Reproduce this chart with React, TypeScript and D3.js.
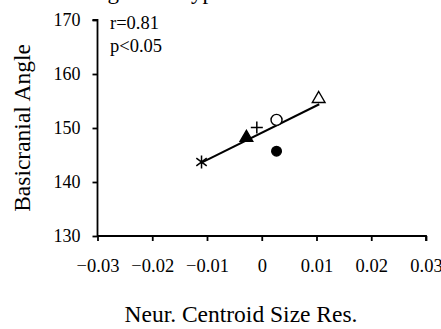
import React, { useEffect, useRef } from "react";
import * as d3 from "d3";

// point values
const markers = ["asterisk", "triangleFilled", "plus", "circleOpen", "triangleOpen", "circleFilled"];
const sizeRes = [-0.011, -0.0028, -0.0009, 0.0027, 0.0104, 0.0027];
const angle = [143.7, 148.2, 150.1, 151.5, 155.4, 145.7];

// regression line ends
const fitX = [-0.011, 0.0105];
const fitY = [143.6, 154.4];

const xTicks = [-0.03, -0.02, -0.01, 0, 0.01, 0.02, 0.03];
const yTicks = [130, 140, 150, 160, 170];
const stats = ["r=0.81", "p<0.05"];

const App: React.FC = () => {
  const ref = useRef<SVGSVGElement>(null);

  useEffect(() => {
    const svg = d3.select(ref.current);
    svg.selectAll("*").remove();

    const font = "'Liberation Serif', 'Times New Roman', serif";
    const x = d3.scaleLinear().domain([-0.03, 0.03]).range([97.5, 426]);
    const y = d3.scaleLinear().domain([130, 170]).range([236, 20]);

    // title, cut off at the top edge
    svg
      .append("text")
      .attr("x", 50)
      .attr("y", -1.5)
      .attr("font-family", font)
      .attr("font-size", 23)
      .text("Among Skull Types");

    const fmt = (d: any) => (d === 0 ? "0" : d3.format(".2f")(d).replace("-", "\u2212"));

    const xAxis = svg
      .append("g")
      .attr("transform", `translate(0,${y(130)})`)
      .call(d3.axisBottom(x).tickValues(xTicks).tickSize(5).tickPadding(18).tickFormat(fmt as any));
    xAxis.selectAll("text").attr("font-family", font).attr("font-size", 18.5).attr("fill", "#000");

    const yAxis = svg
      .append("g")
      .attr("transform", `translate(${x(-0.03)},0)`)
      .call(d3.axisLeft(y).tickValues(yTicks).tickSize(5).tickPadding(12).tickFormat(d3.format("d") as any));
    yAxis.selectAll("text").attr("font-family", font).attr("font-size", 18).attr("fill", "#000");

    [xAxis, yAxis].forEach((a) => {
      a.select(".domain").attr("stroke-width", 1.8);
      a.selectAll(".tick line").attr("stroke-width", 1.8);
    });
    xAxis.select(".domain").attr("d", `M${x(-0.03)},0H${x(0.03)}V5`);
    yAxis.select(".domain").attr("d", `M-5,${y(170)}H0V${y(130)}`);

    svg
      .append("text")
      .attr("x", 241)
      .attr("y", 322)
      .attr("text-anchor", "middle")
      .attr("font-family", font)
      .attr("font-size", 23.5)
      .text("Neur. Centroid Size Res.");

    svg
      .append("text")
      .attr("transform", `translate(30,${(y(130) + y(170)) / 2}) rotate(-90)`)
      .attr("text-anchor", "middle")
      .attr("font-family", font)
      .attr("font-size", 23.5)
      .text("Basicranial Angle");

    svg
      .selectAll(".stat")
      .data(stats)
      .join("text")
      .attr("x", 110)
      .attr("y", (d, i) => 28.5 + i * 23)
      .attr("font-family", font)
      .attr("font-size", 18.5)
      .text((d) => d);

    // regression line
    const line = d3
      .line<number>()
      .x((d) => x(d))
      .y((d, i) => y(fitY[i]));
    svg
      .append("path")
      .attr("d", line(fitX) as string)
      .attr("fill", "none")
      .attr("stroke", "#000")
      .attr("stroke-width", 2);

    const tri = d3.symbol().type(d3.symbolTriangle).size(70);
    const g = svg.append("g");
    markers.forEach((m, i) => {
      const px = x(sizeRes[i]);
      const py = y(angle[i]);
      if (m === "asterisk") {
        const r = 6.5;
        const p = d3.path();
        p.moveTo(px, py - r);
        p.lineTo(px, py + r);
        p.moveTo(px - r * 0.8, py - r * 0.6);
        p.lineTo(px + r * 0.8, py + r * 0.6);
        p.moveTo(px - r * 0.8, py + r * 0.6);
        p.lineTo(px + r * 0.8, py - r * 0.6);
        g.append("path").attr("d", p.toString()).attr("stroke", "#000").attr("stroke-width", 1.5);
      } else if (m === "plus") {
        const r = 6;
        const p = d3.path();
        p.moveTo(px - r, py);
        p.lineTo(px + r, py);
        p.moveTo(px, py - r);
        p.lineTo(px, py + r);
        g.append("path").attr("d", p.toString()).attr("stroke", "#000").attr("stroke-width", 1.5);
      } else if (m === "triangleFilled" || m === "triangleOpen") {
        g.append("path")
          .attr("d", tri() as string)
          .attr("transform", `translate(${px},${py})`)
          .attr("fill", m === "triangleFilled" ? "#000" : "#fff")
          .attr("stroke", "#000")
          .attr("stroke-width", 1.4);
      } else {
        g.append("circle")
          .attr("cx", px)
          .attr("cy", py)
          .attr("r", m === "circleFilled" ? 4.8 : 5.5)
          .attr("fill", m === "circleFilled" ? "#000" : "#fff")
          .attr("stroke", "#000")
          .attr("stroke-width", 1.4);
      }
    });
  }, []);

  return (
    <svg
      ref={ref}
      width={441}
      height={329}
      style={{ position: "absolute", left: 0, top: 0, background: "#fff" }}
    />
  );
};

export default App;
